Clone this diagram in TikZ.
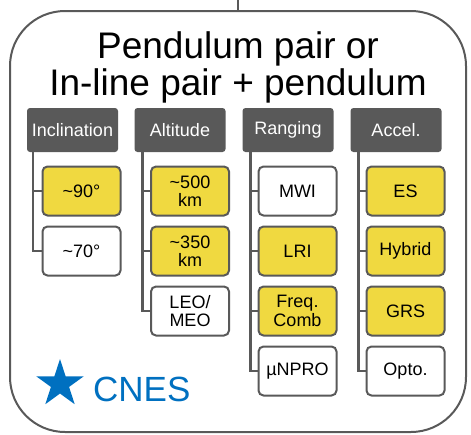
\documentclass[tikz,border=0pt]{standalone}
\usepackage{fontspec}
\setmainfont{Liberation Sans}
\usetikzlibrary{shapes.geometric}
\definecolor{edgegray}{HTML}{595959}
\definecolor{boxyellow}{HTML}{F0D940}
\definecolor{cnesblue}{HTML}{0070C0}

\begin{document}
\begin{tikzpicture}[x=1pt,y=-1pt,
  header/.style={fill=edgegray, draw=none, rounded corners=3pt,
    minimum width=91pt, minimum height=44pt, text=white,
    font=\fontsize{18}{19}\selectfont, inner sep=0pt},
  item/.style={draw=edgegray, line width=2pt, rounded corners=5pt,
    minimum width=78pt, minimum height=49pt, align=center,
    font=\fontsize{18}{18.5}\selectfont, inner sep=0pt},
  on/.style={item, fill=boxyellow},
  off/.style={item, fill=white},
  link/.style={draw=edgegray, line width=2.5pt},
]
\useasboundingbox (0,0) rectangle (471,434);

% outer frame with its feed line
\node[draw=edgegray, line width=2pt, rounded corners=55pt,
  minimum width=456pt, minimum height=421pt, inner sep=0pt] (frame) at (238,221.5) {};
\coordinate (feed) at (238,0);
\draw[edgegray, line width=2pt] (feed) -- (frame.north);

% title
\node[align=center, font=\fontsize{37}{37}\selectfont, inner sep=0pt] (title) at (238,67)
  {Pendulum pair or\\In-line pair + pendulum};

% column headers
\node[header] (hInc) at (72.5,130) {Inclination};
\node[header] (hAlt) at (180,130) {Altitude};
\node[header] (hRng) at (288,130) {Ranging};
\node[header] (hAcc) at (396,130) {Accel.};

% inclination options
\node[on]  (inc90) at (81.5,191) {\textasciitilde90°};
\node[off] (inc70) at (81.5,251) {\textasciitilde70°};

% altitude options
\node[on]  (alt500) at (190,191) {\textasciitilde500\\km};
\node[on]  (alt350) at (190,251) {\textasciitilde350\\km};
\node[off] (altleo) at (190,311) {LEO/\\MEO};

% ranging options
\node[off] (rngmwi)  at (297.5,191) {MWI};
\node[on]  (rnglri)  at (297.5,251) {LRI};
\node[on]  (rngcomb) at (297.5,311) {Freq.\\Comb};
\node[off] (rngnpro) at (297.5,371) {µNPRO};

% accelerometer options
\node[on]  (acces)  at (405.5,191) {ES};
\node[on]  (acchyb) at (405.5,251) {Hybrid};
\node[on]  (accgrs) at (405.5,311) {GRS};
\node[off] (accopt) at (405.5,371) {Opto.};

% tree connectors
\foreach \h/\c/\dx in {hInc/inc90/6, hInc/inc70/6,
    hAlt/alt500/8, hAlt/alt350/8, hAlt/altleo/8,
    hRng/rngmwi/8, hRng/rnglri/8, hRng/rngcomb/8, hRng/rngnpro/8,
    hAcc/acces/8, hAcc/acchyb/8, hAcc/accgrs/8, hAcc/accopt/8}
  \draw[link] ([xshift=\dx pt]\h.south west) |- (\c.west);

% CNES mark
\node[star, star points=5, star point ratio=2.618, fill=cnesblue,
  minimum size=50pt, inner sep=0pt] (star) at (60,384) {};
\node[anchor=west, text=cnesblue, font=\fontsize{35}{35}\selectfont, inner sep=0pt]
  (cnes) at (93,389) {CNES};
\end{tikzpicture}
\end{document}
